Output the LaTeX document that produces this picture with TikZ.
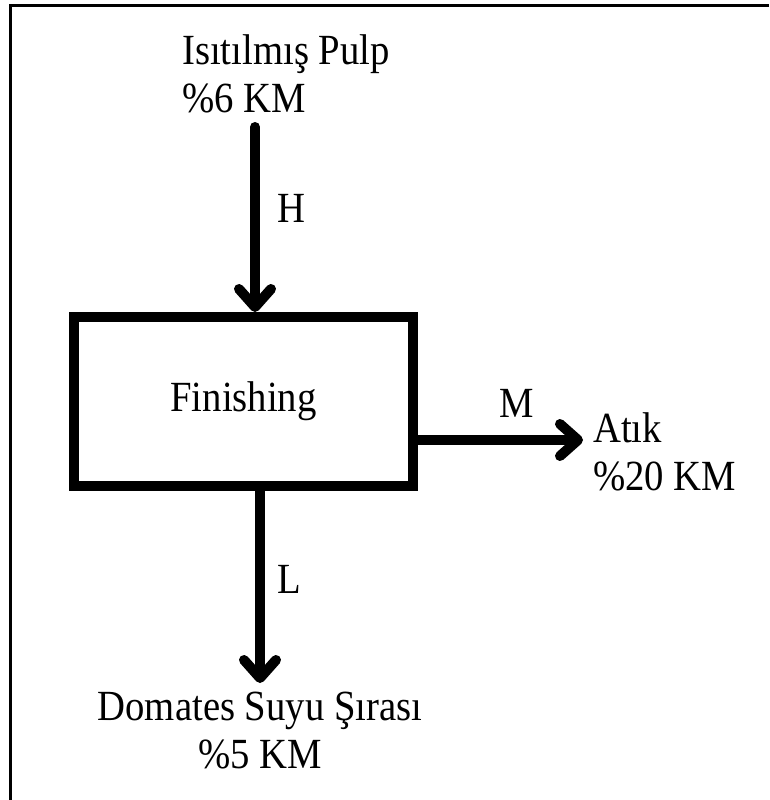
\documentclass[tikz,border=0pt]{standalone}
\usepackage{fontspec}
\setmainfont{Liberation Serif}[FakeStretch=0.9]
\usetikzlibrary{positioning,arrows.meta}
\tikzset{
  lbl/.style={font=\fontsize{43}{48}\selectfont, inner sep=0pt},
  tag/.style={font=\fontsize{43}{48}\selectfont, inner sep=0pt},
  procbox/.style={draw=black, line width=10pt, minimum width=339pt, minimum height=169pt,
                  font=\fontsize{43}{48}\selectfont, inner sep=0pt},
  flowarr/.style={-{Straight Barb[length=18pt,width=32pt,round]}, line width=10pt, line cap=round},
}
\begin{document}
\begin{tikzpicture}[x=1pt,y=-1pt]
  \useasboundingbox (0,0) rectangle (769,800);
  % frame (cropped)
  \draw[line width=3pt] (769,5.5) -- (10.5,5.5) -- (10.5,800);
  % process
  \node[procbox] (fin) at (243.5,401.5) {Finishing};
  % streams (base = last line)
  \node[lbl, anchor=base west, align=left] (pulp) at (182,112) {Isıtılmış Pulp\\\%6 KM};
  \node[lbl, anchor=base west, align=left] (atik) at (593,490) {Atık\\\%20 KM};
  \node[lbl, anchor=base, align=center] (suyu) at (260,768) {Domates Suyu Şırası\\\%5 KM};
  \coordinate (hs) at (255,127);
  \coordinate (le) at (260,683);
  \coordinate (me) at (583,440);
  \draw[flowarr] (hs) -- (hs |- fin.north) node[tag, pos=0.44, right=17pt] {H};
  \draw[flowarr] (fin.east |- me) -- (me) node[tag, pos=0.6, above=18pt] {M};
  \draw[flowarr] (le |- fin.south) -- (le) node[tag, pos=0.46, right=12pt] {L};
\end{tikzpicture}
\end{document}
